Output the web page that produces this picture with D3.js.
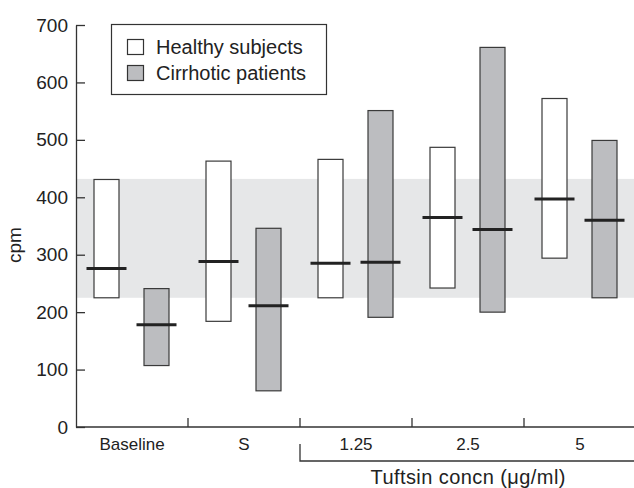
<!DOCTYPE html>
<html>
<head>
<meta charset="utf-8">
<style>
 body { margin: 0; background: #fff; }
 svg { font-family: "Liberation Sans", Arial, sans-serif; background: #fff; }
 .axis path, .axis line { stroke: #333; stroke-width: 1.3px; }
 .axis text { fill: #222; }
</style>
</head>
<body>
<svg width="634" height="488"></svg>
<script src="https://d3js.org/d3.v7.min.js"></script>
<script>

// values (cpm)
var categories = ["Baseline", "S", "1.25", "2.5", "5"];
var groups = ["Healthy subjects", "Cirrhotic patients"];
var healthyLow = [225, 184, 225, 242, 294];
var healthyHigh = [431, 463, 466, 487, 572];
var healthyMedian = [276, 288, 285, 365, 397];
var cirrhoticLow = [107, 63, 191, 200, 225];
var cirrhoticHigh = [241, 346, 551, 661, 499];
var cirrhoticMedian = [178, 211, 287, 344, 360];
var normalRange = [225, 432];
var yTicks = [0, 100, 200, 300, 400, 500, 600, 700];

var colors = { "Healthy subjects": "#ffffff", "Cirrhotic patients": "#bcbdc0" };

var svg = d3.select("svg");
var plotLeft = 76, plotRight = 636, plotTop = 25, plotBottom = 427;

var x = d3.scaleBand().domain(categories).range([plotLeft, plotRight]).padding(0);
var xg = d3.scaleBand().domain(groups).range([5.5, 105.5]).paddingInner(0.5).paddingOuter(0.25);
var y = d3.scaleLinear().domain([0, 700]).range([plotBottom, plotTop]);

// reference band
svg.append("rect")
    .attr("x", plotLeft)
    .attr("y", y(normalRange[1]))
    .attr("width", 634 - plotLeft)
    .attr("height", y(normalRange[0]) - y(normalRange[1]))
    .attr("fill", "#e6e7e8");

var rows = [];
categories.forEach(function(c, i) {
    rows.push({ cat: c, group: groups[0], lo: healthyLow[i], hi: healthyHigh[i], med: healthyMedian[i] });
    rows.push({ cat: c, group: groups[1], lo: cirrhoticLow[i], hi: cirrhoticHigh[i], med: cirrhoticMedian[i] });
});

svg.selectAll("rect.bar").data(rows).enter().append("rect")
    .attr("class", "bar")
    .attr("x", function(d) { return x(d.cat) + xg(d.group); })
    .attr("y", function(d) { return y(d.hi); })
    .attr("width", xg.bandwidth())
    .attr("height", function(d) { return y(d.lo) - y(d.hi); })
    .attr("fill", function(d) { return colors[d.group]; })
    .attr("stroke", "#3a3a3a")
    .attr("stroke-width", 1.2);

svg.selectAll("line.med").data(rows).enter().append("line")
    .attr("class", "med")
    .attr("x1", function(d) { return x(d.cat) + xg(d.group) - 7.5; })
    .attr("x2", function(d) { return x(d.cat) + xg(d.group) + xg.bandwidth() + 7.5; })
    .attr("y1", function(d) { return y(d.med); })
    .attr("y2", function(d) { return y(d.med); })
    .attr("stroke", "#222")
    .attr("stroke-width", 3);

// y axis, ticks pointing inward
var yAxis = svg.append("g")
    .attr("class", "axis")
    .attr("transform", "translate(" + plotLeft + ",0)")
    .call(d3.axisRight(y).tickValues(yTicks).tickSize(9).tickSizeOuter(0));
yAxis.selectAll("text")
    .attr("x", -8)
    .attr("text-anchor", "end")
    .style("font-size", "19px");

// x axis: baseline with upward ticks at category boundaries
var xAxis = svg.append("g").attr("class", "axis");
xAxis.append("line")
    .attr("x1", plotLeft).attr("x2", 634)
    .attr("y1", plotBottom).attr("y2", plotBottom);
xAxis.selectAll("line.tick").data(categories.slice(1)).enter().append("line")
    .attr("class", "tick")
    .attr("x1", function(d) { return x(d); })
    .attr("x2", function(d) { return x(d); })
    .attr("y1", plotBottom).attr("y2", plotBottom - 9);
xAxis.selectAll("text").data(categories).enter().append("text")
    .attr("x", function(d) { return x(d) + x.bandwidth() / 2; })
    .attr("y", 450)
    .attr("text-anchor", "middle")
    .style("font-size", "17px")
    .text(function(d) { return d; });

// bracket under the tuftsin concentrations
var bx = x("1.25");
svg.append("path")
    .attr("d", "M" + bx + ",444V461H634")
    .attr("fill", "none")
    .attr("stroke", "#333")
    .attr("stroke-width", 1.3);
svg.append("text")
    .attr("x", (bx + plotRight) / 2)
    .attr("y", 484)
    .attr("text-anchor", "middle")
    .attr("fill", "#222")
    .style("font-size", "20px")
    .attr("textLength", 195)
    .text("Tuftsin concn (\u03bcg/ml)");

svg.append("text")
    .attr("transform", "translate(21,245) rotate(-90)")
    .attr("text-anchor", "middle")
    .attr("fill", "#222")
    .style("font-size", "19px")
    .text("cpm");

// legend
var legend = svg.append("g");
legend.append("rect")
    .attr("x", 111.5).attr("y", 24.5)
    .attr("width", 215).attr("height", 70)
    .attr("fill", "#fff").attr("stroke", "#333").attr("stroke-width", 1.2);
groups.forEach(function(gname, i) {
    legend.append("rect")
        .attr("x", 127.5).attr("y", 39.5 + i * 26)
        .attr("width", 16).attr("height", 15)
        .attr("fill", colors[gname]).attr("stroke", "#333").attr("stroke-width", 1.2);
    legend.append("text")
        .attr("x", 156).attr("y", 54 + i * 26)
        .attr("fill", "#222")
        .style("font-size", "20px")
        .text(gname);
});

</script>
</body>
</html>
